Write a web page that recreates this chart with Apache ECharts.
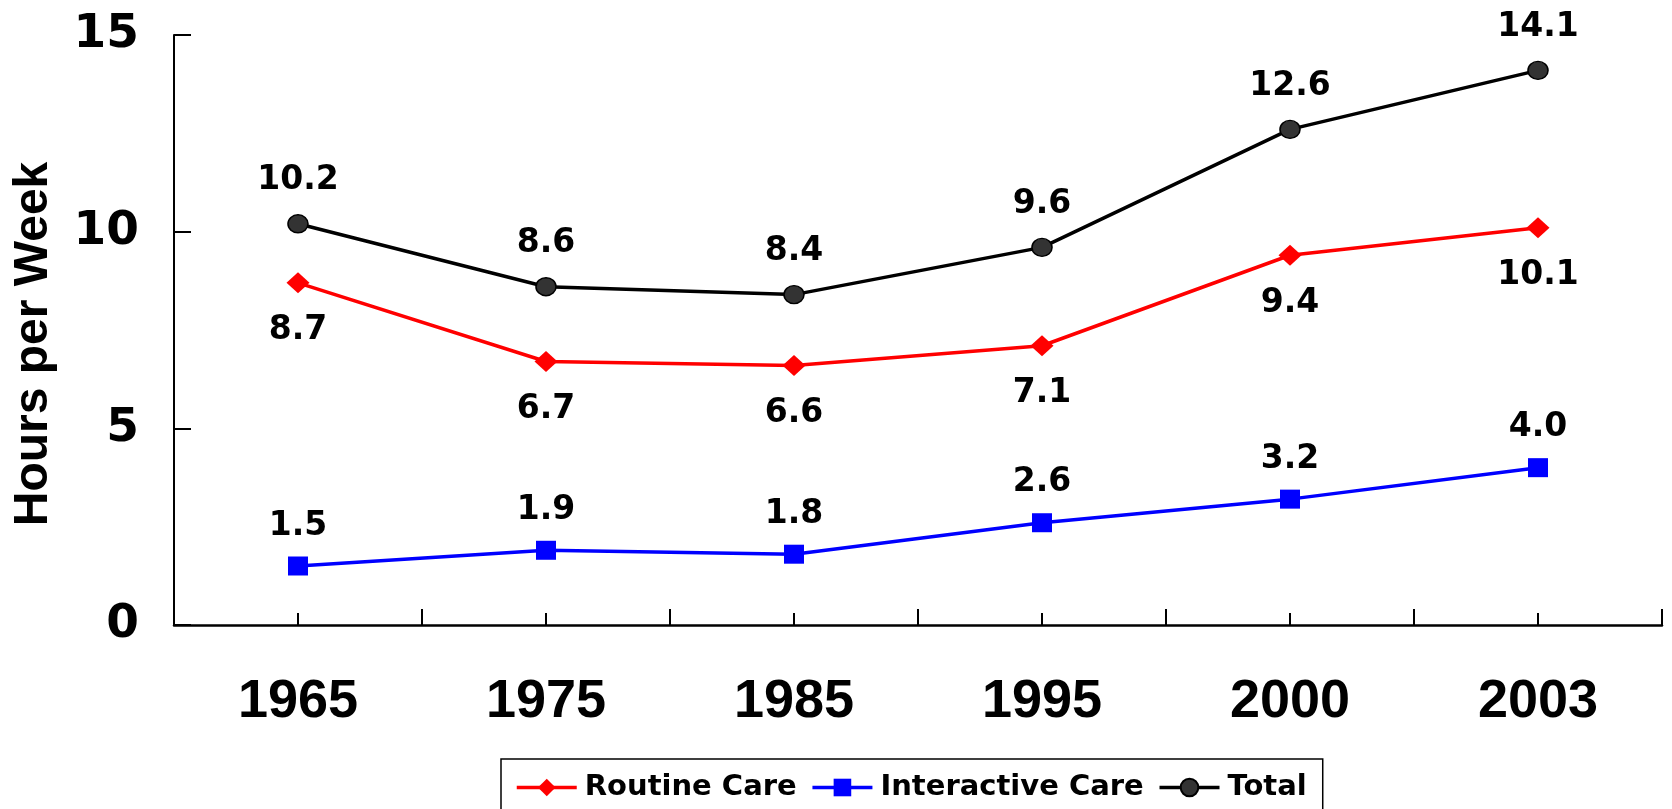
<!DOCTYPE html>
<html>
<head>
<meta charset="utf-8">
<script src="https://cdn.jsdelivr.net/npm/echarts@6/dist/echarts.min.js"></script>
<style>
  html, body { margin: 0; padding: 0; background: #fff; }
  #chart { width: 1672px; height: 809px; }
</style>
</head>
<body>
<div id="chart"></div>
<script>
// years on the x axis
var years = ['1965', '1975', '1985', '1995', '2000', '2003']
// hours per week
var routineCare = [8.7, 6.7, 6.6, 7.1, 9.4, 10.1]
var interactiveCare = [1.5, 1.9, 1.8, 2.6, 3.2, 4.0]
var total = [10.2, 8.6, 8.4, 9.6, 12.6, 14.1]
var yTicks = [0, 5, 10, 15]

var wide = 'DejaVu Sans, Verdana, sans-serif'
var arial = 'Liberation Sans, Arial, sans-serif'

var chart = echarts.init(document.getElementById('chart'))

function labelFmt(p) {
  return p.value.toFixed(1)
}

chart.setOption({
  animation: false,
  grid: { left: 174, right: 10, top: 35, bottom: 184 },
  legend: {
    data: ['Routine Care', 'Interactive Care', 'Total'],
    left: 501,
    top: 759,
    padding: [14, 16, 15, 14],
    itemWidth: 60,
    itemHeight: 22,
    itemGap: 14,
    borderColor: '#000',
    borderWidth: 1.5,
    lineStyle: { width: 3.5 },
    textStyle: { fontFamily: wide, fontWeight: 'bold', fontSize: 29, color: '#000', padding: [0, 0, 0, 3] }
  },
  xAxis: [{
    type: 'category',
    position: 'bottom',
    data: years,
    boundaryGap: true,
    axisLine: { onZero: false, lineStyle: { color: '#000', width: 2.5 } },
    axisTick: { show: true, inside: true, length: 16, interval: 0, lineStyle: { color: '#000', width: 2 } },
    axisLabel: { margin: 50, fontFamily: arial, fontWeight: 'bold', fontSize: 54, color: '#000' }
  }, {
    // short ticks under each year
    type: 'category',
    position: 'bottom',
    data: years,
    boundaryGap: true,
    axisLine: { show: false },
    axisTick: { show: true, inside: true, length: 12, alignWithLabel: true, interval: 0, lineStyle: { color: '#000', width: 2 } },
    axisLabel: { show: false }
  }],
  yAxis: {
    type: 'value',
    min: yTicks[0],
    max: yTicks[yTicks.length - 1],
    interval: 5,
    name: 'Hours per Week',
    nameLocation: 'middle',
    nameGap: 116,
    nameTextStyle: { fontFamily: arial, fontWeight: 'bold', fontSize: 48, color: '#000', padding: [0, 28, 0, 0] },
    splitLine: { show: false },
    axisLine: { show: true, lineStyle: { color: '#000', width: 2 } },
    axisTick: { show: true, inside: true, length: 17, lineStyle: { color: '#000', width: 2 } },
    axisLabel: { margin: 35, fontFamily: wide, fontWeight: 'bold', fontSize: 47, color: '#000' }
  },
  series: [{
    name: 'Routine Care',
    type: 'line',
    data: routineCare,
    symbol: 'diamond',
    symbolSize: [23, 21],
    itemStyle: { color: '#ff0000' },
    lineStyle: { color: '#ff0000', width: 3.5 },
    label: {
      show: true, position: 'bottom', distance: 21, formatter: labelFmt,
      fontFamily: wide, fontWeight: 'bold', fontSize: 33, color: '#000'
    },
    emphasis: { disabled: true },
    z: 3
  }, {
    name: 'Interactive Care',
    type: 'line',
    data: interactiveCare,
    symbol: 'rect',
    symbolSize: [20, 19],
    itemStyle: { color: '#0000ff' },
    lineStyle: { color: '#0000ff', width: 3.5 },
    label: {
      show: true, position: 'top', distance: 14, formatter: labelFmt,
      fontFamily: wide, fontWeight: 'bold', fontSize: 33, color: '#000'
    },
    emphasis: { disabled: true },
    z: 3
  }, {
    name: 'Total',
    type: 'line',
    data: total,
    symbol: 'circle',
    symbolSize: [20, 18],
    itemStyle: { color: '#333333', borderColor: '#000', borderWidth: 1.5 },
    lineStyle: { color: '#000', width: 3.5 },
    label: {
      show: true, position: 'top', distance: 17, formatter: labelFmt,
      fontFamily: wide, fontWeight: 'bold', fontSize: 33, color: '#000'
    },
    emphasis: { disabled: true },
    z: 3
  }]
})
</script>
</body>
</html>
